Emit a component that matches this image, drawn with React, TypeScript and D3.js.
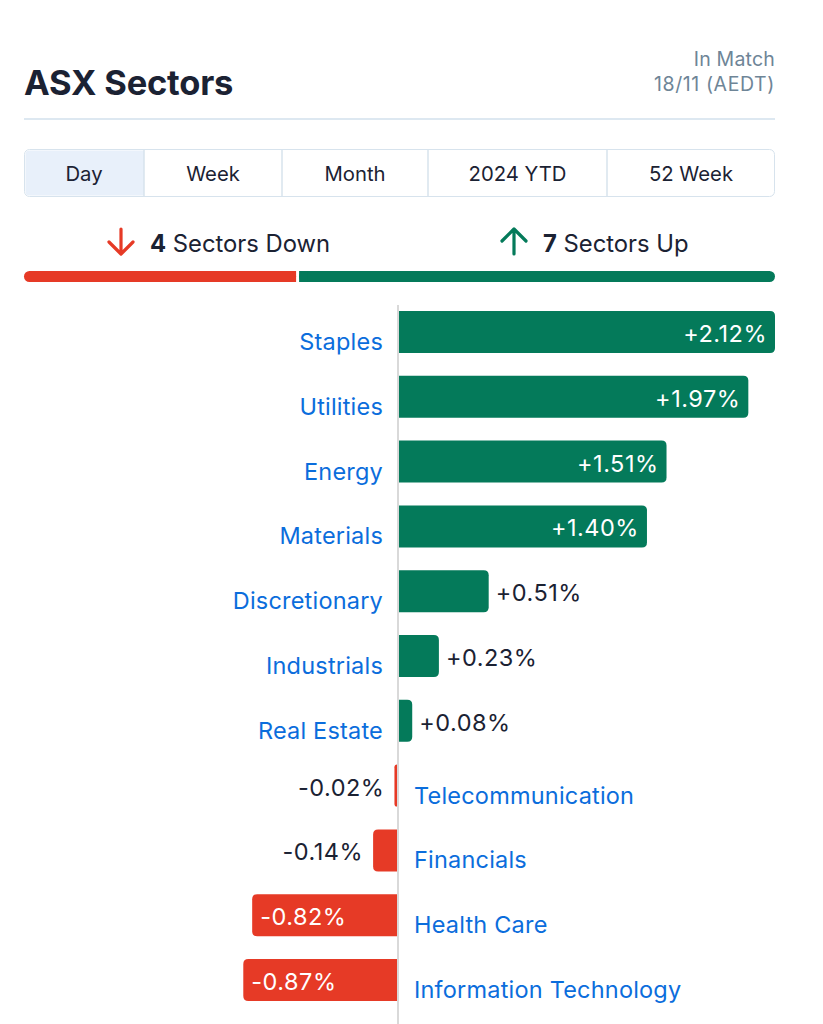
import React from "react";
import * as d3 from "d3";

const sectors = ["Staples", "Utilities", "Energy", "Materials", "Discretionary", "Industrials", "Real Estate", "Telecommunication", "Financials", "Health Care", "Information Technology"];
const changes = [2.12, 1.97, 1.51, 1.4, 0.51, 0.23, 0.08, -0.02, -0.14, -0.82, -0.87];
const tabs = ["Day", "Week", "Month", "2024 YTD", "52 Week"];
const tabEdges = [24, 144, 282, 428, 607, 775];
const title = "ASX Sectors";
const statusLines = ["In Match", "18/11 (AEDT)"];

const GREEN = "#047a5a";
const RED = "#e63a26";
const BLUE = "#0b6ddc";
const DARK = "#1b2233";
const FONT = "Inter, 'Noto Sans', sans-serif";

function barPath(x0: number, x1: number, y: number, h: number, r: number) {
  // rounded on the far side only
  if (x1 >= x0) {
    const rr = Math.min(r, (x1 - x0));
    return `M${x0},${y}H${x1 - rr}Q${x1},${y} ${x1},${y + rr}V${y + h - rr}Q${x1},${y + h} ${x1 - rr},${y + h}H${x0}Z`;
  } else {
    const rr = Math.min(r, (x0 - x1));
    return `M${x0},${y}H${x1 + rr}Q${x1},${y} ${x1},${y + rr}V${y + h - rr}Q${x1},${y + h} ${x1 + rr},${y + h}H${x0}Z`;
  }
}

export default function App() {
  const W = 823, H = 1024;
  const x = d3.scaleLinear().domain([0, 2.12]).range([398, 775]);
  const step = 64.8, bw = 42;
  const y = d3
    .scaleBand<string>()
    .domain(sectors)
    .range([311 - (step - bw) / 2, 311 - (step - bw) / 2 + step * sectors.length])
    .paddingInner((step - bw) / step)
    .paddingOuter((step - bw) / step / 2);

  const nDown = changes.filter((v) => v < 0).length;
  const nUp = changes.filter((v) => v > 0).length;
  const split = d3.scaleLinear().domain([0, nDown + nUp]).range([24, 775]);
  const fmt = (v: number) => (v > 0 ? "+" : "") + v.toFixed(2) + "%";

  return (
    <svg width={W} height={H} style={{ position: "absolute", left: 0, top: 0, background: "#fff" }} fontFamily={FONT}>
      {/* header */}
      <text x={24} y={95} fontSize={34.5} fontWeight={700} fill={DARK} letterSpacing={-0.2}>{title}</text>
      {statusLines.map((s, i) => (
        <text key={s} x={775} y={66 + i * 25} fontSize={19.5} fill="#6e8597" textAnchor="end" letterSpacing={i === 1 ? 0.6 : 0.2}>{s}</text>
      ))}
      <line x1={24} x2={775} y1={119} y2={119} stroke="#dde8f1" strokeWidth={2} />

      {/* tabs */}
      <rect x={24.5} y={149.5} width={750} height={47} rx={5} fill="#fff" stroke="#d7e3ed" />
      <path d={`M${tabEdges[1]},150.5H29.5Q25.5,150.5 25.5,154.5V191.5Q25.5,195.5 29.5,195.5H${tabEdges[1]}Z`} fill="#e8f0fa" />
      {tabEdges.slice(1, -1).map((e) => (
        <line key={e} x1={e} x2={e} y1={150} y2={196} stroke="#d7e3ed" strokeWidth={1.5} />
      ))}
      {tabs.map((t, i) => (
        <text key={t} x={(tabEdges[i] + tabEdges[i + 1]) / 2} y={181} fontSize={20.3} fill={DARK} textAnchor="middle">{t}</text>
      ))}

      {/* up/down summary */}
      <g stroke={RED} strokeWidth={3.2} fill="none" strokeLinecap="round" strokeLinejoin="round">
        <path d="M121,229V253M109,242L121,254L133,242" />
      </g>
      <text x={150} y={251.5} fontSize={23.8} fill={DARK}>
        <tspan fontWeight={700}>{nDown}</tspan> Sectors Down
      </text>
      <g stroke={GREEN} strokeWidth={3.2} fill="none" strokeLinecap="round" strokeLinejoin="round">
        <path d="M514,230V254M502,241L514,229L526,241" />
      </g>
      <text x={543} y={251.5} fontSize={23.8} fill={DARK}>
        <tspan fontWeight={700}>{nUp}</tspan> Sectors Up
      </text>
      <rect x={split(0)} y={271} width={split(nDown) - split(0) - 1} height={11} rx={5.5} fill={RED} />
      <rect x={split(nDown) + 2} y={271} width={split(nDown + nUp) - split(nDown) - 2} height={11} rx={5.5} fill={GREEN} />
      <rect x={split(nDown) - 8} y={271} width={7} height={11} fill={RED} />
      <rect x={split(nDown) + 2} y={271} width={8} height={11} fill={GREEN} />

      {/* axis */}
      <line x1={398} x2={398} y1={305} y2={1024} stroke="#d9d9d9" strokeWidth={2} />

      {/* bars */}
      {sectors.map((s, i) => {
        const v = changes[i];
        const top = y(s)!;
        const cy = top + bw / 2;
        const pos = v >= 0;
        const x0 = pos ? x(0) + 1 : x(0) - 1;
        const x1 = x(v);
        const width = Math.abs(x1 - x0);
        const inside = width > 120;
        let lx: number, anchor: string, color: string;
        if (inside) {
          lx = pos ? x1 - 8 : x1 + 8;
          anchor = pos ? "end" : "start";
          color = "#fff";
        } else {
          lx = pos ? x1 + 7 : x1 - 10;
          anchor = pos ? "start" : "end";
          color = DARK;
        }
        return (
          <g key={s}>
            <path d={barPath(x0, x1, top, bw, 5)} fill={pos ? GREEN : RED} />
            <text x={lx} y={cy + 10} fontSize={23.5} fill={color} textAnchor={anchor} letterSpacing={0.5}>{fmt(v)}</text>
            <text
              x={pos ? 383 : 414}
              y={cy + 18}
              fontSize={23.5}
              fill={BLUE}
              textAnchor={pos ? "end" : "start"}
              letterSpacing={0.2}
            >
              {s}
            </text>
          </g>
        );
      })}
    </svg>
  );
}
